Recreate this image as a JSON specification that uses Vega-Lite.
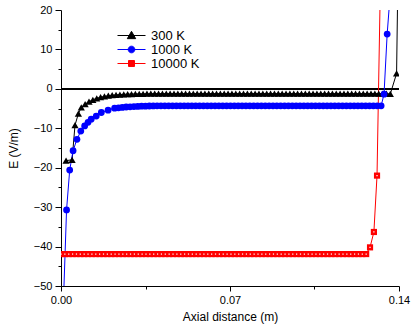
{
"$schema": "https://vega.github.io/schema/vega-lite/v6.json",
"width": 338, "height": 276,
"autosize": {"type": "none"},
"padding": {"left": 61, "top": 10, "right": 12, "bottom": 45},
"background": "white",
"config": {
  "view": {"stroke": null},
  "font": "Liberation Sans",
  "axis": {"domainColor": "black", "tickColor": "black", "labelColor": "black", "titleColor": "black",
    "labelFont": "Liberation Sans", "titleFont": "Liberation Sans", "labelFontSize": 11, "titleFontSize": 12,
    "titleFontWeight": "normal", "grid": false, "domainWidth": 1, "tickWidth": 1, "labelFlush": false}
},
"data": {"values": [
{"T":"300 K","x":0.0021,"y":-18.2},{"T":"300 K","x":0.0046,"y":-18.0},{"T":"300 K","x":0.0058,"y":-9.2},{"T":"300 K","x":0.0072,"y":-6.3},{"T":"300 K","x":0.0084,"y":-4.7},
{"T":"300 K","x":0.0100,"y":-3.88},{"T":"300 K","x":0.0116,"y":-3.25},{"T":"300 K","x":0.0132,"y":-2.77},{"T":"300 K","x":0.0148,"y":-2.4},{"T":"300 K","x":0.0164,"y":-2.12},{"T":"300 K","x":0.0180,"y":-1.91},{"T":"300 K","x":0.0196,"y":-1.74},{"T":"300 K","x":0.0212,"y":-1.61},{"T":"300 K","x":0.0228,"y":-1.52},{"T":"300 K","x":0.0244,"y":-1.44},{"T":"300 K","x":0.0260,"y":-1.39},{"T":"300 K","x":0.0276,"y":-1.34},{"T":"300 K","x":0.0292,"y":-1.31},{"T":"300 K","x":0.0308,"y":-1.28},{"T":"300 K","x":0.0324,"y":-1.26},{"T":"300 K","x":0.0340,"y":-1.25},{"T":"300 K","x":0.0356,"y":-1.24},{"T":"300 K","x":0.0372,"y":-1.23},
{"T":"300 K","x":0.0388,"y":-1.2},{"T":"300 K","x":0.0404,"y":-1.2},{"T":"300 K","x":0.0420,"y":-1.2},{"T":"300 K","x":0.0436,"y":-1.2},{"T":"300 K","x":0.0452,"y":-1.2},{"T":"300 K","x":0.0468,"y":-1.2},{"T":"300 K","x":0.0484,"y":-1.2},{"T":"300 K","x":0.0500,"y":-1.2},{"T":"300 K","x":0.0516,"y":-1.2},{"T":"300 K","x":0.0532,"y":-1.2},{"T":"300 K","x":0.0548,"y":-1.2},{"T":"300 K","x":0.0564,"y":-1.2},{"T":"300 K","x":0.0580,"y":-1.2},{"T":"300 K","x":0.0596,"y":-1.2},{"T":"300 K","x":0.0612,"y":-1.2},{"T":"300 K","x":0.0628,"y":-1.2},{"T":"300 K","x":0.0644,"y":-1.2},{"T":"300 K","x":0.0660,"y":-1.2},{"T":"300 K","x":0.0676,"y":-1.2},{"T":"300 K","x":0.0692,"y":-1.2},{"T":"300 K","x":0.0708,"y":-1.2},{"T":"300 K","x":0.0724,"y":-1.2},{"T":"300 K","x":0.0740,"y":-1.2},{"T":"300 K","x":0.0756,"y":-1.2},{"T":"300 K","x":0.0772,"y":-1.2},{"T":"300 K","x":0.0788,"y":-1.2},{"T":"300 K","x":0.0804,"y":-1.2},{"T":"300 K","x":0.0820,"y":-1.2},{"T":"300 K","x":0.0836,"y":-1.2},{"T":"300 K","x":0.0852,"y":-1.2},{"T":"300 K","x":0.0868,"y":-1.2},{"T":"300 K","x":0.0884,"y":-1.2},{"T":"300 K","x":0.0900,"y":-1.2},{"T":"300 K","x":0.0916,"y":-1.2},{"T":"300 K","x":0.0932,"y":-1.2},{"T":"300 K","x":0.0948,"y":-1.2},{"T":"300 K","x":0.0964,"y":-1.2},{"T":"300 K","x":0.0980,"y":-1.2},{"T":"300 K","x":0.0996,"y":-1.2},{"T":"300 K","x":0.1012,"y":-1.2},{"T":"300 K","x":0.1028,"y":-1.2},{"T":"300 K","x":0.1044,"y":-1.2},{"T":"300 K","x":0.1060,"y":-1.2},{"T":"300 K","x":0.1076,"y":-1.2},{"T":"300 K","x":0.1092,"y":-1.2},{"T":"300 K","x":0.1108,"y":-1.2},{"T":"300 K","x":0.1124,"y":-1.2},{"T":"300 K","x":0.1140,"y":-1.2},{"T":"300 K","x":0.1156,"y":-1.2},{"T":"300 K","x":0.1172,"y":-1.2},{"T":"300 K","x":0.1188,"y":-1.2},{"T":"300 K","x":0.1204,"y":-1.2},{"T":"300 K","x":0.1220,"y":-1.2},{"T":"300 K","x":0.1236,"y":-1.2},{"T":"300 K","x":0.1252,"y":-1.2},{"T":"300 K","x":0.1268,"y":-1.2},{"T":"300 K","x":0.1284,"y":-1.2},{"T":"300 K","x":0.1300,"y":-1.2},{"T":"300 K","x":0.1316,"y":-1.2},{"T":"300 K","x":0.1332,"y":-1.2},{"T":"300 K","x":0.1348,"y":-1.2},{"T":"300 K","x":0.1364,"y":-1.3},
{"T":"300 K","x":0.1390,"y":3.9},{"T":"300 K","x":0.1398,"y":40},
{"T":"1000 K","x":0.0004,"y":-65},{"T":"1000 K","x":0.0023,"y":-30.7},{"T":"1000 K","x":0.0036,"y":-20.6},{"T":"1000 K","x":0.0050,"y":-15.7},{"T":"1000 K","x":0.0066,"y":-12.8},{"T":"1000 K","x":0.0082,"y":-10.7},{"T":"1000 K","x":0.0098,"y":-9.4},{"T":"1000 K","x":0.0112,"y":-8.5},{"T":"1000 K","x":0.0125,"y":-7.7},{"T":"1000 K","x":0.0146,"y":-6.9},{"T":"1000 K","x":0.0167,"y":-6.0},{"T":"1000 K","x":0.0195,"y":-5.4},{"T":"1000 K","x":0.0222,"y":-4.9},
{"T":"1000 K","x":0.0238,"y":-4.8},{"T":"1000 K","x":0.0254,"y":-4.7},{"T":"1000 K","x":0.0270,"y":-4.6},{"T":"1000 K","x":0.0286,"y":-4.55},{"T":"1000 K","x":0.0302,"y":-4.5},{"T":"1000 K","x":0.0318,"y":-4.45},{"T":"1000 K","x":0.0334,"y":-4.4},{"T":"1000 K","x":0.0350,"y":-4.38},{"T":"1000 K","x":0.0366,"y":-4.35},{"T":"1000 K","x":0.0382,"y":-4.33},
{"T":"1000 K","x":0.0398,"y":-4.3},{"T":"1000 K","x":0.0414,"y":-4.3},{"T":"1000 K","x":0.0430,"y":-4.3},{"T":"1000 K","x":0.0446,"y":-4.3},{"T":"1000 K","x":0.0462,"y":-4.3},{"T":"1000 K","x":0.0478,"y":-4.3},{"T":"1000 K","x":0.0494,"y":-4.3},{"T":"1000 K","x":0.0510,"y":-4.3},{"T":"1000 K","x":0.0526,"y":-4.3},{"T":"1000 K","x":0.0542,"y":-4.3},{"T":"1000 K","x":0.0558,"y":-4.3},{"T":"1000 K","x":0.0574,"y":-4.3},{"T":"1000 K","x":0.0590,"y":-4.3},{"T":"1000 K","x":0.0606,"y":-4.3},{"T":"1000 K","x":0.0622,"y":-4.3},{"T":"1000 K","x":0.0638,"y":-4.3},{"T":"1000 K","x":0.0654,"y":-4.3},{"T":"1000 K","x":0.0670,"y":-4.3},{"T":"1000 K","x":0.0686,"y":-4.3},{"T":"1000 K","x":0.0702,"y":-4.3},{"T":"1000 K","x":0.0718,"y":-4.3},{"T":"1000 K","x":0.0734,"y":-4.3},{"T":"1000 K","x":0.0750,"y":-4.3},{"T":"1000 K","x":0.0766,"y":-4.3},{"T":"1000 K","x":0.0782,"y":-4.3},{"T":"1000 K","x":0.0798,"y":-4.3},{"T":"1000 K","x":0.0814,"y":-4.3},{"T":"1000 K","x":0.0830,"y":-4.3},{"T":"1000 K","x":0.0846,"y":-4.3},{"T":"1000 K","x":0.0862,"y":-4.3},{"T":"1000 K","x":0.0878,"y":-4.3},{"T":"1000 K","x":0.0894,"y":-4.3},{"T":"1000 K","x":0.0910,"y":-4.3},{"T":"1000 K","x":0.0926,"y":-4.3},{"T":"1000 K","x":0.0942,"y":-4.3},{"T":"1000 K","x":0.0958,"y":-4.3},{"T":"1000 K","x":0.0974,"y":-4.3},{"T":"1000 K","x":0.0990,"y":-4.3},{"T":"1000 K","x":0.1006,"y":-4.3},{"T":"1000 K","x":0.1022,"y":-4.3},{"T":"1000 K","x":0.1038,"y":-4.3},{"T":"1000 K","x":0.1054,"y":-4.3},{"T":"1000 K","x":0.1070,"y":-4.3},{"T":"1000 K","x":0.1086,"y":-4.3},{"T":"1000 K","x":0.1102,"y":-4.3},{"T":"1000 K","x":0.1118,"y":-4.3},{"T":"1000 K","x":0.1134,"y":-4.3},{"T":"1000 K","x":0.1150,"y":-4.3},{"T":"1000 K","x":0.1166,"y":-4.3},{"T":"1000 K","x":0.1182,"y":-4.3},{"T":"1000 K","x":0.1198,"y":-4.3},{"T":"1000 K","x":0.1214,"y":-4.3},{"T":"1000 K","x":0.1230,"y":-4.3},{"T":"1000 K","x":0.1246,"y":-4.3},{"T":"1000 K","x":0.1262,"y":-4.3},{"T":"1000 K","x":0.1278,"y":-4.3},{"T":"1000 K","x":0.1294,"y":-4.3},{"T":"1000 K","x":0.1310,"y":-4.3},{"T":"1000 K","x":0.1326,"y":-4.3},
{"T":"1000 K","x":0.1338,"y":-1.35},{"T":"1000 K","x":0.1351,"y":13.9},{"T":"1000 K","x":0.1371,"y":30},
{"T":"10000 K","x":0.0000,"y":-41.9},{"T":"10000 K","x":0.0016,"y":-41.9},{"T":"10000 K","x":0.0032,"y":-41.9},{"T":"10000 K","x":0.0048,"y":-41.9},{"T":"10000 K","x":0.0064,"y":-41.9},{"T":"10000 K","x":0.0080,"y":-41.9},{"T":"10000 K","x":0.0096,"y":-41.9},{"T":"10000 K","x":0.0112,"y":-41.9},{"T":"10000 K","x":0.0128,"y":-41.9},{"T":"10000 K","x":0.0144,"y":-41.9},{"T":"10000 K","x":0.0160,"y":-41.9},{"T":"10000 K","x":0.0176,"y":-41.9},{"T":"10000 K","x":0.0192,"y":-41.9},{"T":"10000 K","x":0.0208,"y":-41.9},{"T":"10000 K","x":0.0224,"y":-41.9},{"T":"10000 K","x":0.0240,"y":-41.9},{"T":"10000 K","x":0.0256,"y":-41.9},{"T":"10000 K","x":0.0272,"y":-41.9},{"T":"10000 K","x":0.0288,"y":-41.9},{"T":"10000 K","x":0.0304,"y":-41.9},{"T":"10000 K","x":0.0320,"y":-41.9},{"T":"10000 K","x":0.0336,"y":-41.9},{"T":"10000 K","x":0.0352,"y":-41.9},{"T":"10000 K","x":0.0368,"y":-41.9},{"T":"10000 K","x":0.0384,"y":-41.9},{"T":"10000 K","x":0.0400,"y":-41.9},{"T":"10000 K","x":0.0416,"y":-41.9},{"T":"10000 K","x":0.0432,"y":-41.9},{"T":"10000 K","x":0.0448,"y":-41.9},{"T":"10000 K","x":0.0464,"y":-41.9},{"T":"10000 K","x":0.0480,"y":-41.9},{"T":"10000 K","x":0.0496,"y":-41.9},{"T":"10000 K","x":0.0512,"y":-41.9},{"T":"10000 K","x":0.0528,"y":-41.9},{"T":"10000 K","x":0.0544,"y":-41.9},{"T":"10000 K","x":0.0560,"y":-41.9},{"T":"10000 K","x":0.0576,"y":-41.9},{"T":"10000 K","x":0.0592,"y":-41.9},{"T":"10000 K","x":0.0608,"y":-41.9},{"T":"10000 K","x":0.0624,"y":-41.9},{"T":"10000 K","x":0.0640,"y":-41.9},{"T":"10000 K","x":0.0656,"y":-41.9},{"T":"10000 K","x":0.0672,"y":-41.9},{"T":"10000 K","x":0.0688,"y":-41.9},{"T":"10000 K","x":0.0704,"y":-41.9},{"T":"10000 K","x":0.0720,"y":-41.9},{"T":"10000 K","x":0.0736,"y":-41.9},{"T":"10000 K","x":0.0752,"y":-41.9},{"T":"10000 K","x":0.0768,"y":-41.9},{"T":"10000 K","x":0.0784,"y":-41.9},{"T":"10000 K","x":0.0800,"y":-41.9},{"T":"10000 K","x":0.0816,"y":-41.9},{"T":"10000 K","x":0.0832,"y":-41.9},{"T":"10000 K","x":0.0848,"y":-41.9},{"T":"10000 K","x":0.0864,"y":-41.9},{"T":"10000 K","x":0.0880,"y":-41.9},{"T":"10000 K","x":0.0896,"y":-41.9},{"T":"10000 K","x":0.0912,"y":-41.9},{"T":"10000 K","x":0.0928,"y":-41.9},{"T":"10000 K","x":0.0944,"y":-41.9},{"T":"10000 K","x":0.0960,"y":-41.9},{"T":"10000 K","x":0.0976,"y":-41.9},{"T":"10000 K","x":0.0992,"y":-41.9},{"T":"10000 K","x":0.1008,"y":-41.9},{"T":"10000 K","x":0.1024,"y":-41.9},{"T":"10000 K","x":0.1040,"y":-41.9},{"T":"10000 K","x":0.1056,"y":-41.9},{"T":"10000 K","x":0.1072,"y":-41.9},{"T":"10000 K","x":0.1088,"y":-41.9},{"T":"10000 K","x":0.1104,"y":-41.9},{"T":"10000 K","x":0.1120,"y":-41.9},{"T":"10000 K","x":0.1136,"y":-41.9},{"T":"10000 K","x":0.1152,"y":-41.9},{"T":"10000 K","x":0.1168,"y":-41.9},{"T":"10000 K","x":0.1184,"y":-41.9},{"T":"10000 K","x":0.1200,"y":-41.9},{"T":"10000 K","x":0.1216,"y":-41.9},{"T":"10000 K","x":0.1232,"y":-41.9},{"T":"10000 K","x":0.1248,"y":-41.9},{"T":"10000 K","x":0.1264,"y":-41.9},
{"T":"10000 K","x":0.1280,"y":-40.2},{"T":"10000 K","x":0.1296,"y":-36.3},{"T":"10000 K","x":0.1309,"y":-22.0},{"T":"10000 K","x":0.1329,"y":48}
]},
"layer": [
  {"transform": [{"filter": "false"}],
   "mark": {"type": "point", "filled": true, "strokeWidth": 1, "opacity": 1, "fillOpacity": 1, "strokeOpacity": 1},
   "encoding": {
     "color": {"field": "T", "type": "nominal",
       "scale": {"domain": ["300 K", "1000 K", "10000 K"], "range": ["#000000", "#0000ff", "#ff0000"]},
       "legend": {"title": null, "orient": "none", "legendX": 64, "legendY": 19, "labelFontSize": 13, "labelFont": "Liberation Sans", "labelColor": "black",
         "symbolSize": 49, "labelOffset": 13, "rowPadding": -0.5, "symbolStrokeWidth": 1, "symbolOpacity": 1}},
     "stroke": {"field": "T", "type": "nominal",
       "scale": {"domain": ["300 K", "1000 K", "10000 K"], "range": ["#000000", "#0000ff", "#ff0000"]}},
     "shape": {"field": "T", "type": "nominal",
       "scale": {"domain": ["300 K", "1000 K", "10000 K"], "range": ["M-4,0H4M0,-1.2L1.2,0.9L-1.2,0.9Z", "M-4,0H4M-0.95,0A0.95,0.95,0,1,0,0.95,0A0.95,0.95,0,1,0,-0.95,0Z", "M-4,0H4M-0.85,-0.85H0.85V0.85H-0.85Z"]}}}},
  {"mark": {"type": "rule", "color": "black", "strokeWidth": 1},
   "encoding": {"y": {"datum": 0, "type": "quantitative", "scale": {"domain": [-50, 20], "nice": false, "zero": false}, "axis": null}}},
  {"mark": {"type": "point", "opacity": 0},
   "encoding": {
     "x": {"field": "x", "type": "quantitative", "scale": {"domain": [0, 0.14], "nice": false, "zero": false},
       "axis": {"orient": "bottom", "values": [0.035, 0.105], "labels": false, "domain": false, "tickSize": 3, "title": null}},
     "y": {"field": "y", "type": "quantitative", "scale": {"domain": [-50, 20], "nice": false, "zero": false},
       "axis": {"orient": "left", "values": [-45, -35, -25, -15, -5, 5, 15], "labels": false, "domain": false, "tickSize": 3, "title": null}}}},
  {"mark": {"type": "line", "strokeWidth": 1, "clip": true},
   "encoding": {
     "x": {"field": "x", "type": "quantitative", "scale": {"domain": [0, 0.14], "nice": false, "zero": false},
       "axis": {"orient": "bottom", "values": [0, 0.07, 0.14], "format": ".2f", "tickSize": 5, "labelPadding": 3, "title": "Axial distance (m)", "titlePadding": 6}},
     "y": {"field": "y", "type": "quantitative", "scale": {"domain": [-50, 20], "nice": false, "zero": false},
       "axis": {"orient": "left", "values": [-50, -40, -30, -20, -10, 0, 10, 20], "tickSize": 6, "labelPadding": 3, "title": "E (V/m)", "titlePadding": 13}},
     "color": {"field": "T", "type": "nominal"}}},
  {"transform": [{"filter": "datum.T == '300 K'"}],
   "mark": {"type": "point", "filled": true, "opacity": 1, "size": 52, "shape": "triangle-up", "color": "#000000", "clip": true},
   "encoding": {
     "x": {"field": "x", "type": "quantitative", "scale": {"domain": [0, 0.14], "nice": false, "zero": false}, "axis": null},
     "y": {"field": "y", "type": "quantitative", "scale": {"domain": [-50, 20], "nice": false, "zero": false}, "axis": null}}},
  {"transform": [{"filter": "datum.T == '1000 K'"}],
   "mark": {"type": "point", "filled": true, "opacity": 1, "size": 46, "shape": "circle", "color": "#0000ff", "clip": true},
   "encoding": {
     "x": {"field": "x", "type": "quantitative", "scale": {"domain": [0, 0.14], "nice": false, "zero": false}, "axis": null},
     "y": {"field": "y", "type": "quantitative", "scale": {"domain": [-50, 20], "nice": false, "zero": false}, "axis": null}}},
  {"transform": [{"filter": "datum.T == '10000 K'"}],
   "mark": {"type": "point", "filled": true, "opacity": 1, "size": 38, "shape": "square", "color": "#ff0000", "clip": true},
   "encoding": {
     "x": {"field": "x", "type": "quantitative", "scale": {"domain": [0, 0.14], "nice": false, "zero": false}, "axis": null},
     "y": {"field": "y", "type": "quantitative", "scale": {"domain": [-50, 20], "nice": false, "zero": false}, "axis": null}}},
  {"transform": [{"filter": "datum.T == '10000 K'"}],
   "mark": {"type": "point", "filled": true, "opacity": 1, "color": "white", "shape": "square", "size": 1.5, "clip": true},
   "encoding": {
     "x": {"field": "x", "type": "quantitative", "scale": {"domain": [0, 0.14], "nice": false, "zero": false}, "axis": null},
     "y": {"field": "y", "type": "quantitative", "scale": {"domain": [-50, 20], "nice": false, "zero": false}, "axis": null}}}
],
"resolve": {"axis": {"x": "independent", "y": "independent"}}
}
